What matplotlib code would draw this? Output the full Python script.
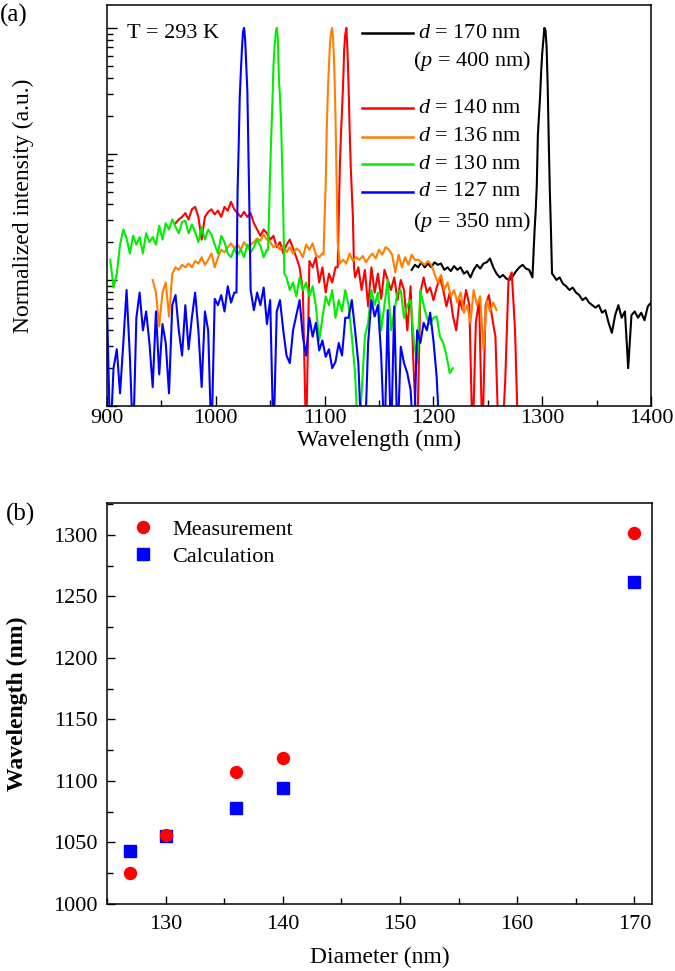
import numpy as np
import matplotlib
matplotlib.use("Agg")
import matplotlib.pyplot as plt
from matplotlib.ticker import MultipleLocator, LogLocator, NullFormatter

plt.rcParams['font.family'] = ['Liberation Serif', 'DejaVu Serif']
plt.rcParams['mathtext.fontset'] = 'custom'
plt.rcParams['mathtext.rm'] = 'Liberation Serif'
plt.rcParams['mathtext.it'] = 'Liberation Serif:italic'

# ---- panel (a): spectra, values are log10(normalized intensity)
# each trace: noisy part left of the peak (3 nm grid), the peak (1 nm grid), part right of it
blue_left_start = 900
blue_left = [-2.2, -3.3, -2.7, -2.55, -2.9, -2.5, -2.08, -2.6, -3.3, -2.3,
             -2.1, -2.4, -2.25, -2.5, -2.85, -2.25, -2.75, -2.35, -2.5, -2.9,
             -2.2, -2.12, -2.4, -2.6, -2.2, -2.55, -2.3, -2.1, -2.4, -2.85,
             -2.25, -2.4, -3.3, -2.15, -2.2, -2.12, -2.25, -2.05, -2.18, -2.1]
blue_peak_start = 1019
blue_peak = [-2.1, -1.3, -0.95, -0.55, -0.35, -0.17, -0.03, 0.0, -0.1, -0.3, -0.5, -1.0, -1.5]
blue_right_start = 1032
blue_right = [-2.08, -2.24, -2.1, -2.2, -2.06, -2.35, -2.16, -3.3, -2.25, -2.16,
              -2.4, -2.6, -2.66, -2.4, -2.28, -2.16, -2.45, -2.6, -2.3, -2.45,
              -2.34, -2.56, -2.48, -2.61, -2.55, -2.7, -2.65, -2.5, -2.6, -2.3,
              -2.3, -2.16, -2.4, -2.66, -3.3, -3.3, -2.5, -2.16, -2.29, -2.2,
              -2.6, -3.3, -2.24, -3.3, -2.21, -3.3, -2.53, -2.66, -2.74, -2.87,
              -3.3, -2.4, -2.5, -2.34, -2.4, -2.26, -2.48, -2.77, -3.3]

green_left_start = 903
green_left = [-1.84, -2.06, -1.95, -1.72, -1.6, -1.67, -1.79, -1.65, -1.72, -1.66,
              -1.79, -1.63, -1.7, -1.66, -1.72, -1.57, -1.68, -1.55, -1.6, -1.52,
              -1.58, -1.63, -1.54, -1.53, -1.63, -1.56, -1.62, -1.7, -1.58, -1.68,
              -1.6, -1.64, -1.72, -1.79, -1.65, -1.7, -1.79, -1.82, -1.75, -1.8,
              -1.76, -1.82, -1.72, -1.78, -1.74, -1.68, -1.73, -1.82, -1.76]
green_peak_start = 1048
green_peak = [-1.76, -1.45, -1.13, -0.85, -0.6, -0.3, -0.15, -0.05, 0.0, -0.08,
              -0.4, -0.55, -0.75, -1.1, -1.45, -1.95]
green_right_start = 1065
green_right = [-1.98, -2.08, -2.02, -2.13, -1.98, -2.08, -2.02, -2.13, -2.05, -2.21,
               -2.48, -2.3, -2.13, -2.2, -2.08, -2.3, -2.16, -2.25, -2.08, -2.2,
               -2.45, -2.74, -3.3, -2.9, -2.45, -2.34, -2.08, -2.2, -2.1, -2.4,
               -2.2, -2.0, -2.4, -2.25, -2.1, -2.08, -2.3, -2.2, -2.16, -2.48,
               -2.66, -2.08, -2.2, -2.3, -2.35, -2.3, -2.29, -2.45, -2.5, -2.6,
               -2.74, -2.7]

orange_left_start = 942
orange_left = [-2.0, -2.1, -2.37, -2.1, -2.02, -2.29, -1.95, -1.9, -1.92, -1.88,
               -1.9, -1.87, -1.9, -1.85, -1.87, -1.82, -1.88, -1.84, -1.79, -1.9,
               -1.82, -1.76, -1.78, -1.74, -1.71, -1.75, -1.72, -1.76, -1.7, -1.74,
               -1.72, -1.7, -1.67, -1.69, -1.64, -1.68, -1.7, -1.74, -1.72, -1.76,
               -1.73, -1.78, -1.74, -1.79, -1.75, -1.77, -1.82, -1.72, -1.76, -1.71,
               -1.8, -1.82, -1.79]
orange_peak_start = 1099
orange_peak = [-1.8, -1.5, -1.25, -0.8, -0.5, -0.3, -0.12, -0.03, 0.0, -0.12,
               -0.35, -0.7, -1.2, -1.7]
orange_right_start = 1114
orange_right = [-1.87, -1.84, -1.87, -1.79, -1.85, -1.82, -1.84, -1.81, -1.86, -1.82,
                -1.79, -1.83, -1.76, -1.8, -1.74, -1.76, -1.8, -1.94, -1.8, -1.9,
                -1.82, -1.88, -1.8, -1.84, -1.84, -1.86, -1.88, -1.85, -1.88, -1.95,
                -2.02, -1.96, -2.08, -2.02, -2.13, -2.08, -2.18, -2.1, -2.26, -2.2,
                -2.34, -2.08, -2.2, -2.13, -2.55, -2.16, -2.25, -2.18, -2.24]

red_left_start = 963
red_left = [-1.55, -1.52, -1.5, -1.47, -1.52, -1.44, -1.42, -1.5, -1.68, -1.5,
            -1.46, -1.44, -1.48, -1.45, -1.5, -1.42, -1.45, -1.38, -1.44, -1.47,
            -1.5, -1.46, -1.5, -1.47, -1.55, -1.6, -1.65, -1.6, -1.63, -1.68,
            -1.65, -1.74, -1.7, -1.79, -1.72, -1.68, -1.75, -1.82, -1.9, -2.08,
            -3.3, -1.85, -1.9, -1.82, -2.02, -1.9, -2.1, -1.95, -2.02, -1.9]
red_peak_start = 1112
red_peak = [-1.9, -1.5, -1.1, -0.85, -0.65, -0.45, -0.17, -0.05, 0.0, -0.17,
            -0.45, -0.8, -1.1, -1.3, -1.5, -1.9]
red_right_start = 1128
red_right = [-1.98, -1.9, -2.08, -1.92, -2.21, -1.9, -2.1, -1.95, -2.15, -1.92,
             -2.0, -2.08, -1.98, -2.16, -2.0, -2.08, -2.4, -2.05, -2.74, -3.3,
             -2.1, -1.98, -2.1, -2.06, -2.16, -2.06, -1.98, -2.08, -2.21, -2.1,
             -2.29, -2.4, -2.16, -2.24, -2.08, -2.2, -3.3, -2.34, -2.16, -3.3,
             -2.2, -2.12, -2.3, -2.45, -3.3, -3.3, -2.8, -2.0, -1.94, -2.4,
             -3.3]

black_left_start = 1180
black_left = [-1.92, -1.88, -1.9, -1.86, -1.9, -1.87, -1.9, -1.86, -1.88, -1.87,
              -1.92, -1.9, -1.93, -1.89, -1.92, -1.9, -1.95, -1.93, -1.98, -1.92,
              -1.88, -1.91, -1.87, -1.86, -1.83, -1.9, -1.95, -1.98, -1.96, -1.99,
              -2.0, -1.97, -1.93, -1.9, -1.88, -1.91, -1.92, -1.98]
black_peak_start = 1293
black_peak = [-1.6, -1.45, -1.25, -0.85, -0.7, -0.55, -0.35, -0.2, -0.1, 0.0,
              -0.02, -0.15, -0.45, -0.9, -1.3, -1.6, -1.95]
black_right_start = 1310
black_right = [-1.96, -2.0, -1.98, -2.03, -2.05, -2.08, -2.06, -2.1, -2.12, -2.16,
               -2.14, -2.18, -2.2, -2.22, -2.2, -2.26, -2.24, -2.34, -2.42, -2.28,
               -2.2, -2.3, -2.25, -2.7, -2.28, -2.25, -2.3, -2.26, -2.32, -2.21,
               -2.18]

# ---- panel (b)
diameter = [127, 130, 136, 140, 170]
measured = [1025, 1056, 1107, 1119, 1302]
calculated = [1043, 1055, 1078, 1094, 1262]


def trace(ls, left, ps, peak, rs, right, step=3):
    wl = np.concatenate([ls + step * np.arange(len(left)),
                         ps + np.arange(len(peak)),
                         rs + step * np.arange(len(right))])
    return wl, 10.0 ** np.array(left + peak + right)


FS = 16

fig = plt.figure(figsize=(6.75, 9.71), dpi=100)
ax = fig.add_axes([0.1585, 0.5819, 0.806, 0.413])

series = [
    ('black', (black_left_start, black_left, black_peak_start, black_peak, black_right_start, black_right)),
    ('#ff0000', (red_left_start, red_left, red_peak_start, red_peak, red_right_start, red_right)),
    ('#ff7f00', (orange_left_start, orange_left, orange_peak_start, orange_peak, orange_right_start, orange_right)),
    ('#00ee00', (green_left_start, green_left, green_peak_start, green_peak, green_right_start, green_right)),
    ('#0000ff', (blue_left_start, blue_left, blue_peak_start, blue_peak, blue_right_start, blue_right)),
]
for col, args in series:
    x, y = trace(*args)
    ax.plot(x, y, color=col, lw=1.5)

ax.set_yscale('log')
ax.set_xlim(900, 1400)
ax.set_ylim(1e-3, 1.52)
ax.xaxis.set_major_locator(MultipleLocator(100))
ax.xaxis.set_minor_locator(MultipleLocator(50))
ax.yaxis.set_major_locator(LogLocator(base=10))
ax.yaxis.set_minor_locator(LogLocator(base=10, subs=np.arange(2, 10)))
ax.yaxis.set_major_formatter(NullFormatter())
ax.yaxis.set_minor_formatter(NullFormatter())
ax.tick_params(which='both', direction='in', top=False, right=False, labelsize=FS)
ax.tick_params(axis='x', pad=2.5)
ax.tick_params(which='major', length=7, width=1)
ax.tick_params(which='minor', length=4, width=1)
ax.set_xlabel('Wavelength (nm)', fontsize=FS + 1)
ax.set_ylabel('Normalized intensity (a.u.)', fontsize=FS + 1)
ax.xaxis.set_label_coords(0.5, -0.06)
ax.yaxis.set_label_coords(-0.135, 0.5)
for s in ax.spines.values():
    s.set_linewidth(1.1)

ax.text(0.037, 0.93, 'T = 293 K', transform=ax.transAxes, fontsize=FS, va='center')

leg_rows = [
    ('black', '$d$ = 170 nm', 0.930),
    (None, '($p$ = 400 nm)', 0.860),
    ('#ff0000', '$d$ = 140 nm', 0.743),
    ('#ff7f00', '$d$ = 136 nm', 0.671),
    ('#00ee00', '$d$ = 130 nm', 0.603),
    ('#0000ff', '$d$ = 127 nm', 0.534),
    (None, '($p$ = 350 nm)', 0.459),
]
for col, lab, yy in leg_rows:
    if col is not None:
        ax.plot([0.469, 0.5625], [yy, yy], color=col, lw=1.8, transform=ax.transAxes)
        ax.text(0.572, yy, lab, transform=ax.transAxes, fontsize=FS, va='center')
    else:
        ax.text(0.562, yy, lab, transform=ax.transAxes, fontsize=FS, va='center')

fig.text(0.0, 0.984, '(a)', fontsize=FS + 2, va='center')

# ---- panel (b)
bx = fig.add_axes([0.1585, 0.069, 0.8075, 0.413])
bx.plot(diameter, calculated, 's', color='#0000ff', ms=8, mec='#0000ff', label='Calculation', zorder=3)
bx.plot(diameter, measured, 'o', color='#ff0000', ms=8.6, mec='#ff0000', label='Measurement', zorder=4)
bx.set_xlim(125, 171.5)
bx.set_ylim(1000, 1326)
bx.xaxis.set_major_locator(MultipleLocator(10))
bx.xaxis.set_minor_locator(MultipleLocator(5))
bx.yaxis.set_major_locator(MultipleLocator(50))
bx.yaxis.set_minor_locator(MultipleLocator(25))
bx.tick_params(which='both', direction='in', top=False, right=False, labelsize=FS)
bx.tick_params(axis='x', pad=8)
bx.tick_params(axis='y', pad=7)
bx.tick_params(which='major', length=6, width=1)
bx.tick_params(which='minor', length=4, width=1)
bx.set_xlabel('Diameter (nm)', fontsize=FS + 1)
bx.set_ylabel('Wavelength (nm)', fontsize=FS + 1, fontweight='bold')
bx.xaxis.set_label_coords(0.5, -0.107)
bx.yaxis.set_label_coords(-0.145, 0.5)
for s in bx.spines.values():
    s.set_linewidth(1.1)
h, l = bx.get_legend_handles_labels()
bx.legend(h[::-1], l[::-1], loc='upper left', frameon=False, fontsize=FS,
          handlelength=1.4, handletextpad=0.6, borderaxespad=0, borderpad=0,
          bbox_to_anchor=(0.038, 0.96), labelspacing=0.3)

fig.text(0.008, 0.47, '(b)', fontsize=FS + 2, va='center')

fig.savefig('out.png', dpi=100)
